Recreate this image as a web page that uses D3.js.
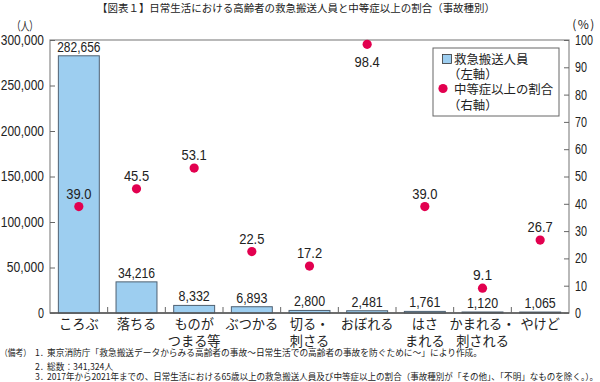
<!DOCTYPE html>
<html><head><meta charset="utf-8">
<script src="https://cdn.jsdelivr.net/npm/d3@7"></script>
<style>
html,body{margin:0;padding:0;background:#fff;}
svg{display:block;}
.num{font-family:"Liberation Sans","Arial",sans-serif;fill:#222;}
.jp{font-family:"Noto Sans CJK JP","Noto Sans",sans-serif;fill:#222;}
</style></head>
<body>
<svg id="c" width="600" height="382"></svg>
<script>
const title = "【図表１】日常生活における高齢者の救急搬送人員と中等症以上の割合（事故種別）";
const categories = ["ころぶ","落ちる","ものが\nつまる等","ぶつかる","切る・\n刺さる","おぼれる","はさ\nまれる","かまれる・\n刺される","やけど"];
const persons = [282656,34216,8332,6893,2800,2481,1761,1120,1065];
const ratios = [39.0,45.5,53.1,22.5,17.2,98.4,39.0,9.1,26.7];
const leftTicks = [0,50000,100000,150000,200000,250000,300000];
const rightTicks = [0,10,20,30,40,50,60,70,80,90,100];
const legendLabels = ["救急搬送人員","（左軸）","中等症以上の割合","（右軸）"];
const notes = [
  "東京消防庁「救急搬送データからみる高齢者の事故～日常生活での高齢者の事故を防ぐために～」により作成。",
  "総数：341,324人",
  "2017年から2021年までの、日常生活における65歳以上の救急搬送人員及び中等症以上の割合（事故種別が「その他」、「不明」なものを除く。）。"
];

const svg = d3.select("#c");
const L = 50, R = 569, T = 40, B = 313;
const x = d3.scaleBand().domain(categories).range([L, R]).padding(0);
const yL = d3.scaleLinear().domain([0,300000]).range([B,T]);
const yR = d3.scaleLinear().domain([0,100]).range([B,T]);
const fmt = d3.format(",");
const barW = x.bandwidth()*0.71;
const barColor = "#9dcef0", dotColor = "#e2004f";
// condensed numeral look: width per character
function numLen(s){ let w=0; for(const c of s){ w += (c===","||c===".") ? 7.2 : 6; } return w; }
function condense(sel){
  sel.attr("textLength",function(){ return numLen(this.textContent); })
     .attr("lengthAdjust","spacingAndGlyphs");
}

// title
svg.append("text").attr("class","jp").attr("x",296).attr("y",11.5).attr("text-anchor","middle")
  .attr("font-size",10.5).attr("textLength",398).attr("lengthAdjust","spacingAndGlyphs").text(title);
// unit labels
svg.append("text").attr("class","jp").attr("x",25).attr("y",31).attr("text-anchor","middle")
  .attr("font-size",12).attr("textLength",26).attr("lengthAdjust","spacingAndGlyphs").text("（人）");
svg.append("text").attr("class","jp").attr("x",584).attr("y",29).attr("text-anchor","middle")
  .attr("font-size",12).attr("letter-spacing",1.5).text("(%)");

// frame
svg.append("rect").attr("x",L).attr("y",T).attr("width",R-L).attr("height",B-T)
  .attr("fill","none").attr("stroke","#8a8a8a").attr("stroke-width",1.2);

// bars
svg.append("g").selectAll("rect").data(persons).join("rect")
  .attr("x",(d,i)=>x(categories[i])+x.bandwidth()/2-barW/2)
  .attr("y",d=>yL(d)).attr("width",barW).attr("height",d=>B-yL(d))
  .attr("fill",barColor).attr("stroke","#4f6172").attr("stroke-width",1);

// bottom axis line
svg.append("line").attr("x1",L).attr("x2",R).attr("y1",B).attr("y2",B).attr("stroke","#555").attr("stroke-width",1.3);

// left axis
const gl = svg.append("g").attr("transform",`translate(${L},0)`)
  .call(d3.axisLeft(yL).tickValues(leftTicks).tickFormat(d=>fmt(d)).tickSize(-5).tickPadding(6));
gl.select(".domain").remove();
gl.selectAll(".tick line").attr("stroke","#666");
gl.selectAll(".tick text").attr("class","num").attr("font-size",14).attr("fill","#222").call(condense);

// right axis
const gr = svg.append("g").attr("transform",`translate(${R},0)`)
  .call(d3.axisRight(yR).tickValues(rightTicks).tickSize(-5).tickPadding(6));
gr.select(".domain").remove();
gr.selectAll(".tick line").attr("stroke","#666");
gr.selectAll(".tick text").attr("class","num").attr("font-size",14).attr("fill","#222").call(condense);

// category separators (bottom ticks)
svg.append("g").selectAll("line").data(categories.slice(1)).join("line")
  .attr("x1",d=>x(d)).attr("x2",d=>x(d)).attr("y1",B).attr("y2",B-6)
  .attr("stroke","#666");

// category labels
const cl = svg.append("g").selectAll("text").data(categories).join("text")
  .attr("class","jp").attr("font-size",13.2).attr("text-anchor","middle")
  .attr("x",d=>x(d)+x.bandwidth()/2).attr("y",329);
cl.each(function(d){
  const lines = d.split("\n");
  d3.select(this).selectAll("tspan").data(lines).join("tspan")
    .attr("x",x(d)+x.bandwidth()/2).attr("dy",(l,i)=>i?16.5:0).text(l=>l);
});

// bar value labels
svg.append("g").selectAll("text").data(persons).join("text")
  .attr("class","num").attr("font-size",14).attr("text-anchor","middle")
  .attr("x",(d,i)=>x(categories[i])+x.bandwidth()/2).attr("y",d=>yL(d)-4).text(d=>fmt(d)).call(condense);

// dots
svg.append("g").selectAll("circle").data(ratios).join("circle")
  .attr("cx",(d,i)=>x(categories[i])+x.bandwidth()/2).attr("cy",d=>yR(d)).attr("r",4.6)
  .attr("fill",dotColor);
svg.append("g").selectAll("text").data(ratios).join("text")
  .attr("class","num").attr("font-size",14).attr("text-anchor","middle")
  .attr("x",(d,i)=>x(categories[i])+x.bandwidth()/2)
  .attr("y",d=>d>90 ? yR(d)+22.5 : yR(d)-8).text(d=>d.toFixed(1)).call(condense);

// legend
const lg = svg.append("g");
lg.append("rect").attr("x",433).attr("y",48).attr("width",126).attr("height",68)
  .attr("fill","#fff").attr("stroke","#666").attr("stroke-width",1);
lg.append("rect").attr("x",442.5).attr("y",54.5).attr("width",9).attr("height",9)
  .attr("fill",barColor).attr("stroke","#333").attr("stroke-width",0.8);
lg.append("circle").attr("cx",443).attr("cy",88.5).attr("r",4.6).attr("fill",dotColor);
const lgY = [64,78.5,94,110];
const lgX = [454,448,454,448];
lg.selectAll("text").data(legendLabels).join("text").attr("class","jp").attr("font-size",12.4)
  .attr("x",(d,i)=>lgX[i]).attr("y",(d,i)=>lgY[i]).text(d=>d);

// notes
const ng = svg.append("g");
ng.append("text").attr("class","jp").attr("x",0).attr("y",355.5).attr("font-size",8.7)
  .attr("textLength",31).attr("lengthAdjust","spacingAndGlyphs").text("（備考）");
const nY = [355.5,369.5,380];
const nLen = [435,null,551];
notes.forEach((t,i)=>{
  ng.append("text").attr("class","jp").attr("x",35).attr("y",nY[i]).attr("font-size",8.7).text((i+1)+"．");
  const tx = ng.append("text").attr("class","jp").attr("x",47).attr("y",nY[i]).attr("font-size",8.7).text(t);
  if(nLen[i]) tx.attr("textLength",nLen[i]).attr("lengthAdjust","spacingAndGlyphs");
});
</script>
</body></html>
